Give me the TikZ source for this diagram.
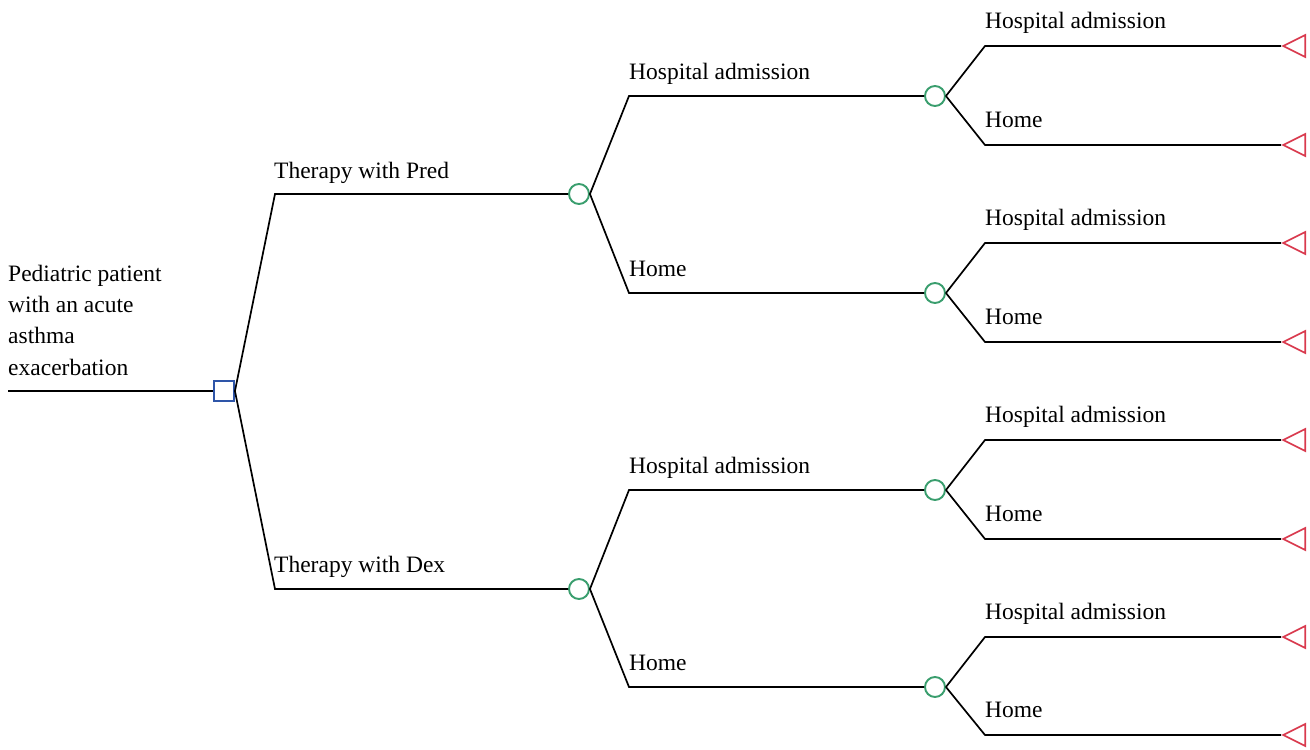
\documentclass[tikz,border=0pt]{standalone}
\usepackage{fontspec}
\setmainfont{Liberation Serif}
\newfontfamily\labfont{Liberation Serif}
\usetikzlibrary{shapes.geometric}
\definecolor{decblue}{HTML}{2E55A8}
\definecolor{chgreen}{HTML}{3A9E6E}
\definecolor{termred}{HTML}{D93A4E}
\begin{document}
\begin{tikzpicture}[x=1pt,y=-1pt,
  every node/.style={font=\labfont\fontsize{23.5}{31.3}\selectfont},
  branch/.style={draw=black,line width=1.7pt},
  decision/.style={draw=decblue,line width=1.9pt,rectangle,minimum size=20pt,inner sep=0pt},
  chance/.style={draw=chgreen,line width=1.9pt,circle,minimum size=20pt,inner sep=0pt},
  terminal/.style={draw=termred,line width=1.7pt,isosceles triangle,isosceles triangle stretches,
     shape border rotate=180,minimum width=22pt,minimum height=22pt,inner sep=0pt,anchor=apex},
  lab/.style={anchor=base west,inner sep=0pt}]
\useasboundingbox (0,0) rectangle (1310,750);

% root
\coordinate (start) at (8,391);
\node[decision] (D) at (224,391) {};
\node[lab,align=left] (rootlab) at (8,375) {Pediatric patient\\with an acute\\asthma\\exacerbation};
\draw[branch] (start) -- (D.west);

% level 1
\coordinate (k1) at (275,194);
\coordinate (k2) at (275,589);
\node[chance] (C1) at (579,194) {};
\node[chance] (C2) at (579,589) {};
\draw[branch] (D.east) -- (k1) -- (C1.west);
\draw[branch] (D.east) -- (k2) -- (C2.west);
\node[lab] (l1) at (274,178) {Therapy with Pred};
\node[lab] (l2) at (274,572) {Therapy with Dex};

% level 2
\foreach \p/\ya/\yb/\na/\nb in {C1/96/293/C11/C12, C2/490/687/C21/C22}{
  \coordinate (\na k) at (629,\ya);
  \coordinate (\nb k) at (629,\yb);
  \node[chance] (\na) at (935,\ya) {};
  \node[chance] (\nb) at (935,\yb) {};
  \draw[branch] (\p.east) -- (\na k) -- (\na.west);
  \draw[branch] (\p.east) -- (\nb k) -- (\nb.west);
  \node[lab] at (629,\ya-17) {Hospital admission};
  \node[lab] at (629,\yb-17) {Home};
}

% level 3
\foreach \p/\ya/\yb in {C11/46/145, C12/243/342, C21/440/539, C22/637/735}{
  \coordinate (\p ak) at (985,\ya);
  \coordinate (\p bk) at (985,\yb);
  \node[terminal] (\p a) at (1281,\ya) {};
  \node[terminal] (\p b) at (1281,\yb) {};
  \draw[branch] (\p.east) -- (\p ak) -- (\p a.apex);
  \draw[branch] (\p.east) -- (\p bk) -- (\p b.apex);
  \node[lab] at (985,\ya-18) {Hospital admission};
  \node[lab] at (985,\yb-18) {Home};
}
\end{tikzpicture}
\end{document}
